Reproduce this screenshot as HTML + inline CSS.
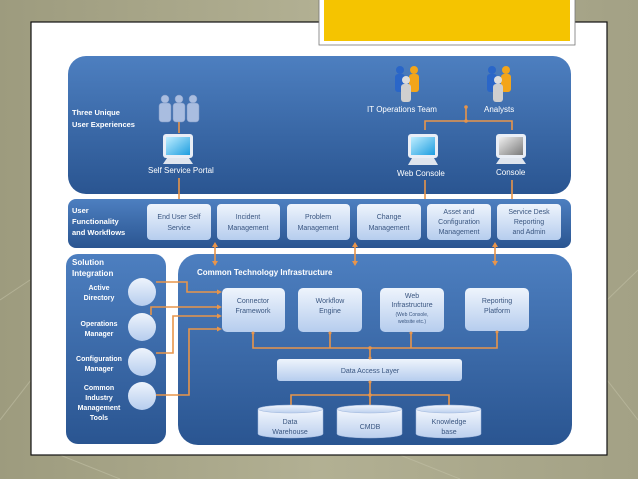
<!DOCTYPE html>
<html><head><meta charset="utf-8"><style>
html,body{margin:0;padding:0;width:638px;height:479px;overflow:hidden;background:#a8a689}
svg{display:block}
text{font-family:"Liberation Sans",sans-serif}
.w{fill:#fff;font-weight:bold;font-size:7.5px}
.wn{fill:#fff;font-size:8px}
.b{fill:#3a5680;font-size:7px;text-anchor:middle}
.o{stroke:#e8954a;stroke-width:1.6;fill:none}
</style></head><body>
<svg width="638" height="479" viewBox="0 0 638 479" xmlns="http://www.w3.org/2000/svg">
<defs>
<linearGradient id="bg" x1="0" y1="0" x2="1" y2="0"><stop offset="0" stop-color="#9d9b7e"/><stop offset=".5" stop-color="#b2b093"/><stop offset="1" stop-color="#a3a185"/></linearGradient>
<linearGradient id="bl" x1="0" y1="0" x2="0" y2="1"><stop offset="0" stop-color="#4d7fc0"/><stop offset="1" stop-color="#2a5591"/></linearGradient>
<linearGradient id="bx" x1="0" y1="0" x2="0" y2="1"><stop offset="0" stop-color="#eef4fc"/><stop offset="1" stop-color="#b6cdee"/></linearGradient>
<linearGradient id="cy" x1="0" y1="0" x2="0" y2="1"><stop offset="0" stop-color="#f2f6fd"/><stop offset="1" stop-color="#bcd0ee"/></linearGradient>
<linearGradient id="scr" x1="0" y1="0" x2="1" y2="1"><stop offset="0" stop-color="#bfeeff"/><stop offset="1" stop-color="#1e9ee0"/></linearGradient>
<linearGradient id="scg" x1="0" y1="0" x2="1" y2="1"><stop offset="0" stop-color="#f0f0f0"/><stop offset="1" stop-color="#7a7a7a"/></linearGradient>
</defs>
<rect width="638" height="479" fill="url(#bg)"/>
<g stroke="#c2c0a5" stroke-width="1" opacity=".6" fill="none">
<path d="M0 300 L30 280 M0 420 L31 380 M607 300 L638 270 M607 380 L638 420 M60 455 L120 479 M400 455 L460 479"/>
</g>
<rect x="31" y="22" width="576" height="433" fill="#fff" stroke="#111" stroke-width="1.2"/>
<rect x="319" y="-2" width="256" height="47" fill="#fff" stroke="#777" stroke-width=".8"/>
<rect x="324" y="0" width="246" height="41" fill="#f5c400"/>

<!-- top panel -->
<rect x="68" y="56" width="503" height="138" rx="18" fill="url(#bl)"/>
<text class="w" x="72" y="115">Three Unique</text>
<text class="w" x="72" y="127">User Experiences</text>
<!-- people self service -->
<g fill="#a9bde0" stroke="#7f97c4" stroke-width=".5">
<circle cx="165" cy="99" r="4"/><rect x="159" y="103" width="12" height="19" rx="3"/>
<circle cx="179" cy="99" r="4"/><rect x="173" y="103" width="12" height="19" rx="3"/>
<circle cx="193" cy="99" r="4"/><rect x="187" y="103" width="12" height="19" rx="3"/>
</g>
<!-- IT ops people -->
<g>
<circle cx="400" cy="70" r="4" fill="#2a66c8"/><rect x="395" y="74" width="10" height="18" rx="3" fill="#2a66c8"/>
<circle cx="414" cy="70" r="4" fill="#f3a51a"/><rect x="409" y="74" width="10" height="18" rx="3" fill="#f3a51a"/>
<circle cx="406" cy="80" r="4" fill="#ddd"/><rect x="401" y="84" width="10" height="18" rx="3" fill="#cfcfcf"/>
<circle cx="492" cy="70" r="4" fill="#2a66c8"/><rect x="487" y="74" width="10" height="18" rx="3" fill="#2a66c8"/>
<circle cx="506" cy="70" r="4" fill="#f3a51a"/><rect x="501" y="74" width="10" height="18" rx="3" fill="#f3a51a"/>
<circle cx="498" cy="80" r="4" fill="#ddd"/><rect x="493" y="84" width="10" height="18" rx="3" fill="#cfcfcf"/>
</g>
<text class="wn" x="367" y="112">IT Operations Team</text>
<text class="wn" x="484" y="112">Analysts</text>
<!-- monitors -->
<g>
<rect x="163" y="134" width="30" height="24" rx="3" fill="#e9eef6"/><rect x="166" y="137" width="24" height="18" fill="url(#scr)"/>
<path d="M167 158 L189 158 L193 164 L163 164Z" fill="#dfe5ee"/>
<rect x="408" y="134" width="30" height="24" rx="3" fill="#e9eef6"/><rect x="411" y="137" width="24" height="18" fill="url(#scr)"/>
<path d="M412 158 L434 158 L438 165 L408 165Z" fill="#dfe5ee"/>
<rect x="496" y="134" width="30" height="24" rx="3" fill="#e9eef6"/><rect x="499" y="137" width="24" height="18" fill="url(#scg)"/>
<path d="M500 158 L522 158 L526 164 L496 164Z" fill="#dfe5ee"/>
</g>
<text class="wn" x="148" y="173">Self Service Portal</text>
<text class="wn" x="397" y="176">Web Console</text>
<text class="wn" x="496" y="175">Console</text>
<path class="o" d="M179 122 V133 M179 178 V208 M466 107 V121 M425 130 V121 H512 V130 M425 180 V200 M512 180 V200"/>
<circle cx="466" cy="107" r="1.8" fill="#e8954a"/><circle cx="466" cy="121" r="1.8" fill="#e8954a"/>

<!-- user band -->
<rect x="68" y="199" width="503" height="49" rx="8" fill="url(#bl)"/>
<text class="w" x="72" y="213">User</text>
<text class="w" x="72" y="224">Functionality</text>
<text class="w" x="72" y="235">and Workflows</text>
<g fill="url(#bx)">
<rect x="147" y="204" width="64" height="36" rx="4"/>
<rect x="217" y="204" width="63" height="36" rx="4"/>
<rect x="287" y="204" width="63" height="36" rx="4"/>
<rect x="357" y="204" width="64" height="36" rx="4"/>
<rect x="427" y="204" width="64" height="36" rx="4"/>
<rect x="497" y="204" width="64" height="36" rx="4"/>
</g>
<text class="b" x="179" y="219">End User Self</text><text class="b" x="179" y="230">Service</text>
<text class="b" x="248" y="219">Incident</text><text class="b" x="248" y="230">Management</text>
<text class="b" x="318" y="219">Problem</text><text class="b" x="318" y="230">Management</text>
<text class="b" x="389" y="219">Change</text><text class="b" x="389" y="230">Management</text>
<text class="b" x="459" y="214">Asset and</text><text class="b" x="459" y="224">Configuration</text><text class="b" x="459" y="234">Management</text>
<text class="b" x="529" y="214">Service Desk</text><text class="b" x="529" y="224">Reporting</text><text class="b" x="529" y="234">and Admin</text>

<!-- solution integration -->
<rect x="66" y="254" width="100" height="190" rx="12" fill="url(#bl)"/>
<text class="w" x="72" y="265" style="font-size:8px">Solution</text>
<text class="w" x="72" y="276" style="font-size:8px">Integration</text>
<g class="w" text-anchor="middle" style="font-size:7px">
<text x="99" y="290">Active</text><text x="99" y="300">Directory</text>
<text x="99" y="326">Operations</text><text x="99" y="336">Manager</text>
<text x="99" y="361">Configuration</text><text x="99" y="371">Manager</text>
<text x="99" y="390">Common</text><text x="99" y="400">Industry</text><text x="99" y="410">Management</text><text x="99" y="420">Tools</text>
</g>
<g fill="url(#bx)">
<circle cx="142" cy="292" r="14"/><circle cx="142" cy="327" r="14"/><circle cx="142" cy="362" r="14"/><circle cx="142" cy="396" r="14"/>
</g>

<!-- common tech -->
<rect x="178" y="254" width="394" height="191" rx="20" fill="url(#bl)"/>
<text class="w" x="197" y="275" style="font-size:8px">Common Technology Infrastructure</text>
<g fill="url(#bx)">
<rect x="222" y="288" width="63" height="44" rx="5"/>
<rect x="298" y="288" width="64" height="44" rx="5"/>
<rect x="380" y="288" width="64" height="44" rx="5"/>
<rect x="465" y="288" width="64" height="43" rx="5"/>
<rect x="277" y="359" width="185" height="22" rx="3"/>
</g>
<text class="b" x="253" y="303">Connector</text><text class="b" x="253" y="313">Framework</text>
<text class="b" x="330" y="303">Workflow</text><text class="b" x="330" y="313">Engine</text>
<text class="b" x="412" y="298">Web</text><text class="b" x="412" y="307">Infrastructure</text>
<text class="b" x="412" y="316" style="font-size:5px">(Web Console,</text><text class="b" x="412" y="323" style="font-size:5px">website etc.)</text>
<text class="b" x="497" y="303">Reporting</text><text class="b" x="497" y="313">Platform</text>
<text class="b" x="370" y="373">Data Access Layer</text>
<path class="o" d="M253 332 V348 H497 V331 M330 332 V348 M411 332 V348 M370 348 V359 M370 381 V395 M291 405 V395 H449 V405 M370 395 V405"/>
<g fill="#e8954a"><circle cx="370" cy="348" r="1.8"/><circle cx="370" cy="395" r="1.8"/><circle cx="253" cy="333" r="1.5"/><circle cx="330" cy="333" r="1.5"/><circle cx="411" cy="333" r="1.5"/><circle cx="497" cy="332" r="1.5"/><circle cx="370" cy="358" r="1.5"/><circle cx="370" cy="382" r="1.5"/></g>
<!-- cylinders -->
<g fill="url(#cy)" stroke="#9fb6dc" stroke-width=".5">
<path d="M258 409 V434 A32.5 4 0 0 0 323 434 V409Z"/><ellipse cx="290.5" cy="409" rx="32.5" ry="4"/>
<path d="M337 409 V434 A32.5 4 0 0 0 402 434 V409Z"/><ellipse cx="369.5" cy="409" rx="32.5" ry="4"/>
<path d="M416 409 V434 A32.5 4 0 0 0 481 434 V409Z"/><ellipse cx="448.5" cy="409" rx="32.5" ry="4"/>
</g>
<text class="b" x="290" y="424">Data</text><text class="b" x="290" y="434">Warehouse</text>
<text class="b" x="370" y="429">CMDB</text>
<text class="b" x="449" y="424">Knowledge</text><text class="b" x="449" y="434">base</text>

<!-- integration lines -->
<path class="o" d="M156 282 H187 V292 H218 M151 315 V307 H218 M156 353 H173 V316 H218 M156 395 H189 V329 H218"/>
<g fill="#e8954a">
<path d="M222 292 l-5 -2.5 v5z M222 307 l-5 -2.5 v5z M222 316 l-5 -2.5 v5z M222 329 l-5 -2.5 v5z"/>
</g>
<!-- vertical bidirectional arrows -->
<path class="o" d="M215 246 V262 M355 246 V262 M495 246 V262"/>
<g fill="#e8954a">
<path d="M215 242 l-3 5 h6z M215 266 l-3 -5 h6z M355 242 l-3 5 h6z M355 266 l-3 -5 h6z M495 242 l-3 5 h6z M495 266 l-3 -5 h6z"/>
</g>
</svg>
</body></html>
